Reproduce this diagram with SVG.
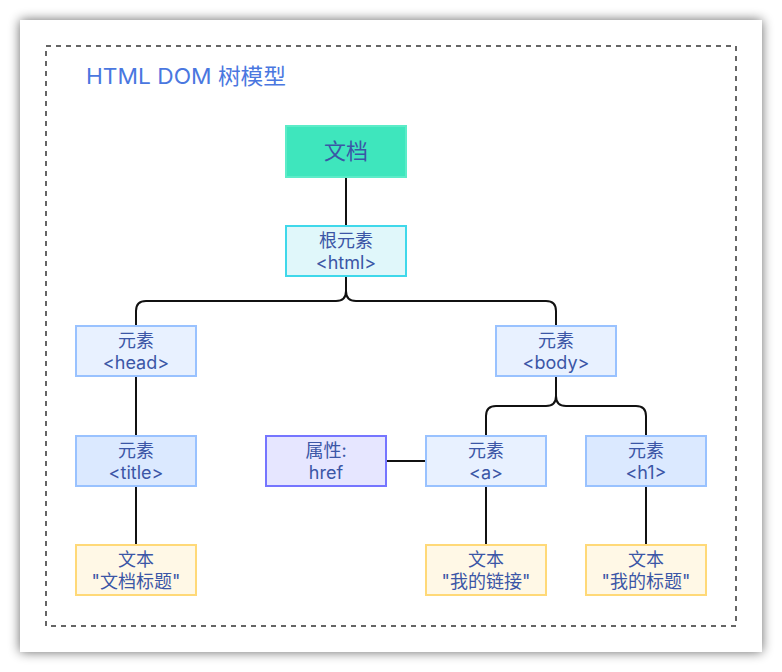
<svg xmlns="http://www.w3.org/2000/svg" width="782" height="672" viewBox="0 0 782 672">
<defs>
<filter id="sh" x="-10%" y="-10%" width="120%" height="120%">
<feGaussianBlur in="SourceAlpha" stdDeviation="6"/>
<feOffset dx="0" dy="0"/>
<feComponentTransfer><feFuncA type="linear" slope="0.6"/></feComponentTransfer>
<feMerge><feMergeNode/><feMergeNode in="SourceGraphic"/></feMerge>
</filter>
<style>
text{font-family:"Inter","Noto Sans CJK SC",sans-serif;fill:#3b56a6;text-anchor:middle;font-size:18px}
.n{stroke-width:2}
.el{fill:#e8f1ff;stroke:#99c2ff}
.el2{fill:#dbe9ff;stroke:#99c2ff}
.tx{fill:#fff8e6;stroke:#ffd978}
.c{fill:none;stroke:#111;stroke-width:2}
</style>
</defs>
<rect x="0" y="0" width="782" height="672" fill="#ffffff"/>
<rect x="20" y="20" width="742" height="632" fill="#ffffff" filter="url(#sh)"/>
<rect x="46" y="46" width="690" height="580" fill="none" stroke="#333" stroke-width="1.5" stroke-dasharray="5,5"/>
<text x="86" y="84" style="text-anchor:start;font-size:22px;fill:#4a77e0" textLength="200" lengthAdjust="spacingAndGlyphs">HTML DOM 树模型</text>
<g id="connectors">
<path class="c" d="M346 177V226"/>
<path class="c" d="M346 276V291Q346 301 336 301H146Q136 301 136 311V326"/>
<path class="c" d="M346 291Q346 301 356 301H546Q556 301 556 311V326"/>
<path class="c" d="M136 376V436"/>
<path class="c" d="M136 486V545"/>
<path class="c" d="M556 376V396Q556 406 546 406H496Q486 406 486 416V436"/>
<path class="c" d="M556 396Q556 406 566 406H636Q646 406 646 416V436"/>
<path class="c" d="M386 461H426"/>
<path class="c" d="M486 486V545"/>
<path class="c" d="M646 486V545"/>
</g>
<g id="doc"><rect class="n" x="286" y="126" width="120" height="51" fill="#3ee6bd" stroke="#5cecc8"/><text x="346" y="159" style="font-size:22px">文档</text></g>
<g id="html"><rect class="n" x="286" y="226" width="120" height="50" fill="#e0f7fa" stroke="#3fd8ea"/><text x="346" y="247">根元素</text><text x="346" y="269">&lt;html&gt;</text></g>
<g id="head"><rect class="n el" x="76" y="326" width="120" height="50"/><text x="136" y="347">元素</text><text x="136" y="369">&lt;head&gt;</text></g>
<g id="body"><rect class="n el" x="496" y="326" width="120" height="50"/><text x="556" y="347">元素</text><text x="556" y="369">&lt;body&gt;</text></g>
<g id="title"><rect class="n el2" x="76" y="436" width="120" height="50"/><text x="136" y="457">元素</text><text x="136" y="479">&lt;title&gt;</text></g>
<g id="attr"><rect class="n" x="266" y="436" width="120" height="50" fill="#e6e6ff" stroke="#7575ff"/><text x="326" y="457">属性:</text><text x="326" y="479">href</text></g>
<g id="a"><rect class="n el" x="426" y="436" width="120" height="50"/><text x="486" y="457">元素</text><text x="486" y="479">&lt;a&gt;</text></g>
<g id="h1"><rect class="n el2" x="586" y="436" width="120" height="50"/><text x="646" y="457">元素</text><text x="646" y="479">&lt;h1&gt;</text></g>
<g id="text-title"><rect class="n tx" x="76" y="545" width="120" height="50"/><text x="136" y="566">文本</text><text x="136" y="588">"文档标题"</text></g>
<g id="text-a"><rect class="n tx" x="426" y="545" width="120" height="50"/><text x="486" y="566">文本</text><text x="486" y="588">"我的链接"</text></g>
<g id="text-h1"><rect class="n tx" x="586" y="545" width="120" height="50"/><text x="646" y="566">文本</text><text x="646" y="588">"我的标题"</text></g>
</svg>
